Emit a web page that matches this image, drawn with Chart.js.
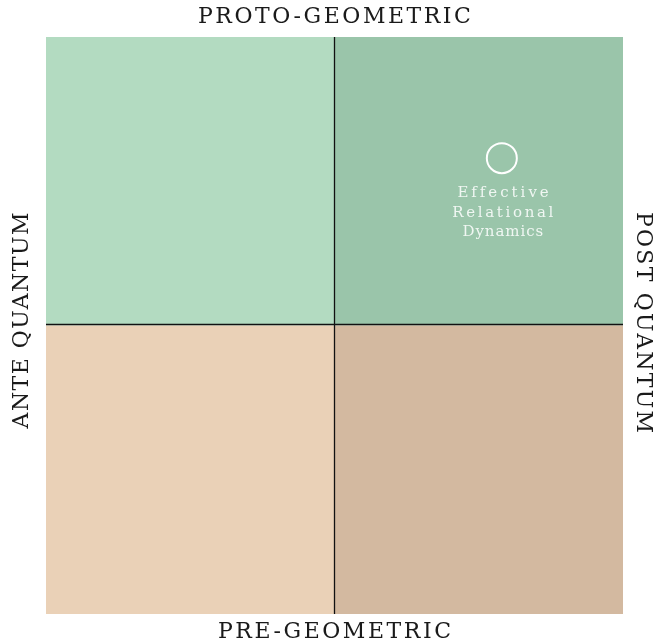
<!DOCTYPE html>
<html>
<head>
<meta charset="utf-8">
<script src="https://cdn.jsdelivr.net/npm/chart.js@4.4.0/dist/chart.umd.min.js"></script>
<style>
  html, body { margin: 0; padding: 0; background: #fff; }
  #wrap { width: 667px; height: 644px; }
</style>
</head>
<body>
<div id="wrap"><canvas id="quadrantChart"></canvas></div>
<script>
// quadrant data
const axisTop = 'PROTO-GEOMETRIC';
const axisBottom = 'PRE-GEOMETRIC';
const axisLeft = 'ANTE QUANTUM';
const axisRight = 'POST QUANTUM';

const pointNames = [['Effective', 'Relational', 'Dynamics']];
const pointX = [0.79];
const pointY = [0.79];

// top-left, top-right, bottom-left, bottom-right
const quadrantColors = ['#b3dbc1', '#9ac5aa', '#ead1b7', '#d3b9a0'];

const serif = '"DejaVu Serif", "Liberation Serif", serif';

// draw text centred on cx, spread out to a given width
function spacedText(ctx, text, cx, cy, width) {
  ctx.letterSpacing = '0px';
  const w = ctx.measureText(text).width;
  const gap = Math.max(0, (width - w) / (text.length - 1));
  ctx.letterSpacing = gap.toFixed(2) + 'px';
  ctx.textAlign = 'left';
  ctx.fillText(text, cx - width / 2, cy);
}

const quadrantPlugin = {
  id: 'quadrants',
  beforeDatasetsDraw(chart) {
    const ctx = chart.ctx;
    const x = chart.scales.x;
    const y = chart.scales.y;
    const x0 = x.getPixelForValue(0), xm = x.getPixelForValue(0.5), x1 = x.getPixelForValue(1);
    const y0 = y.getPixelForValue(0), ym = y.getPixelForValue(0.5), y1 = y.getPixelForValue(1);
    ctx.save();
    ctx.fillStyle = quadrantColors[0];
    ctx.fillRect(x0, y1, xm - x0, ym - y1);
    ctx.fillStyle = quadrantColors[1];
    ctx.fillRect(xm, y1, x1 - xm, ym - y1);
    ctx.fillStyle = quadrantColors[2];
    ctx.fillRect(x0, ym, xm - x0, y0 - ym);
    ctx.fillStyle = quadrantColors[3];
    ctx.fillRect(xm, ym, x1 - xm, y0 - ym);

    ctx.strokeStyle = '#111';
    ctx.lineWidth = 1.3;
    ctx.beginPath();
    ctx.moveTo(Math.floor(xm) + 0.5, y1);
    ctx.lineTo(Math.floor(xm) + 0.5, y0);
    ctx.moveTo(x0, Math.floor(ym) - 0.5);
    ctx.lineTo(x1, Math.floor(ym) - 0.5);
    ctx.stroke();
    ctx.restore();
  },
  afterDatasetsDraw(chart) {
    const ctx = chart.ctx;
    const x = chart.scales.x;
    const y = chart.scales.y;
    const area = chart.chartArea;
    ctx.save();

    // point labels
    ctx.fillStyle = 'rgba(255,255,255,0.85)';
    ctx.font = '15px ' + serif;
    ctx.textBaseline = 'alphabetic';
    pointNames.forEach((lines, i) => {
      const px = x.getPixelForValue(pointX[i]);
      const py = y.getPixelForValue(pointY[i]);
      lines.forEach((line, j) => {
        spacedText(ctx, line, px + 1, py + 39 + j * 19.5, line.length * 10.1);
      });
    });

    // axis labels
    ctx.fillStyle = '#1a1a1a';
    ctx.font = '22px ' + serif;
    ctx.textBaseline = 'middle';
    const cx = (area.left + area.right) / 2;
    const cy = (area.top + area.bottom) / 2;
    spacedText(ctx, axisTop, cx, 17, 273);
    spacedText(ctx, axisBottom, cx, 632, 233);

    ctx.save();
    ctx.translate(22, cy - 5);
    ctx.rotate(-Math.PI / 2);
    spacedText(ctx, axisLeft, 0, 0, 216);
    ctx.restore();

    ctx.save();
    ctx.translate(643, cy - 3);
    ctx.rotate(Math.PI / 2);
    spacedText(ctx, axisRight, 0, 0, 221);
    ctx.restore();

    ctx.restore();
  }
};

new Chart(document.getElementById('quadrantChart'), {
  type: 'scatter',
  data: {
    datasets: [{
      data: pointX.map((v, i) => ({ x: v, y: pointY[i] })),
      pointRadius: 15,
      pointHoverRadius: 15,
      borderColor: '#ffffff',
      borderWidth: 2,
      backgroundColor: 'rgba(0,0,0,0)'
    }]
  },
  options: {
    responsive: true,
    maintainAspectRatio: false,
    animation: false,
    layout: { padding: { left: 46, top: 37, right: 44, bottom: 30 } },
    plugins: { legend: { display: false }, tooltip: { enabled: false } },
    scales: {
      x: { min: 0, max: 1, display: false },
      y: { min: 0, max: 1, display: false }
    }
  },
  plugins: [quadrantPlugin]
});
</script>
</body>
</html>
